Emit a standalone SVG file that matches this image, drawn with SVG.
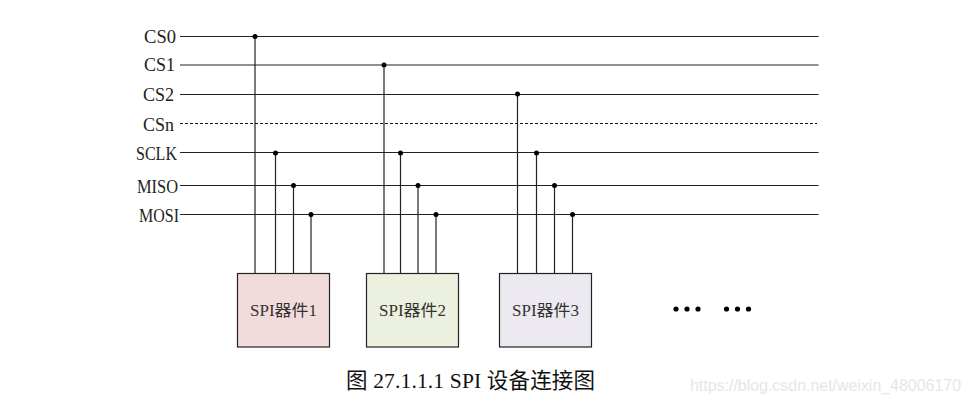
<svg xmlns="http://www.w3.org/2000/svg" width="970" height="403" viewBox="0 0 970 403">
<style>
.bus{stroke:#222;stroke-width:1.2;fill:none}
.dash{stroke:#111;stroke-width:1;stroke-dasharray:3 2}
.lbl{font-family:"Liberation Serif","Noto Sans CJK SC",serif;font-size:19px;fill:#222;text-anchor:start}
.dev{stroke:#222;stroke-width:1.2}
.devt{font-family:"Liberation Serif","Noto Sans CJK SC",serif;font-size:16px;fill:#333;text-anchor:start}
.cap{font-family:"Liberation Serif","Noto Sans CJK SC",serif;font-size:21.5px;fill:#111}
.mark{font-family:"Liberation Sans",sans-serif;font-size:16px;fill:#e6e6e6}
.dot{fill:#000}
</style>
<rect width="970" height="403" fill="#fff"/>
<g id="connectors">
<path class="bus" d="M180 36.500H818.500M180 65H818.500M180 94.500H818.500M180 152.500H818.500M180 185.500H818.500M180 214.500H818.500"/>
<path class="dash" d="M180 123.500H817"/>
<path class="bus" d="M255 36.500V273M275.500 152.500V273M293.500 185.500V273M311 214.500V273"/>
<path class="bus" d="M384 65V273M400.500 152.500V273M418 185.500V273M436 214.500V273"/>
<path class="bus" d="M517.500 94.500V273M536.500 152.500V273M554.500 185.500V273M572.500 214.500V273"/>
<g class="dot">
<circle cx="255" cy="36.500" r="2.500"/><circle cx="275.500" cy="153" r="2.500"/><circle cx="293.500" cy="185.500" r="2.500"/><circle cx="311" cy="214.500" r="2.500"/>
<circle cx="384" cy="65" r="2.500"/><circle cx="400.500" cy="153" r="2.500"/><circle cx="418" cy="185.500" r="2.500"/><circle cx="436" cy="214.500" r="2.500"/>
<circle cx="517.500" cy="94" r="2.500"/><circle cx="536.500" cy="153" r="2.500"/><circle cx="554.500" cy="185.500" r="2.500"/><circle cx="572.500" cy="214.500" r="2.500"/>
</g>
</g>
<g id="labels">
<text id="l-cs0" class="lbl" x="144" y="42.500" textLength="32" lengthAdjust="spacingAndGlyphs">CS0</text>
<text id="l-cs1" class="lbl" x="144" y="71" textLength="31" lengthAdjust="spacingAndGlyphs">CS1</text>
<text id="l-cs2" class="lbl" x="143" y="100.500" textLength="31" lengthAdjust="spacingAndGlyphs">CS2</text>
<text id="l-csn" class="lbl" x="143" y="130.500" textLength="31" lengthAdjust="spacingAndGlyphs">CSn</text>
<text id="l-sclk" class="lbl" x="136" y="159.500" textLength="41" lengthAdjust="spacingAndGlyphs">SCLK</text>
<text id="l-miso" class="lbl" x="137" y="192.500" textLength="41" lengthAdjust="spacingAndGlyphs">MISO</text>
<text id="l-mosi" class="lbl" x="139" y="221.500" textLength="40" lengthAdjust="spacingAndGlyphs">MOSI</text>
</g>
<g id="dev1"><rect class="dev" x="237.500" y="273.500" width="92" height="73.500" fill="#f2dcdb"/><text class="devt" x="250" y="315.500" textLength="67" lengthAdjust="spacingAndGlyphs">SPI器件1</text></g>
<g id="dev2"><rect class="dev" x="366.500" y="273.500" width="92" height="73.500" fill="#ebf1de"/><text class="devt" x="379" y="315.500" textLength="67" lengthAdjust="spacingAndGlyphs">SPI器件2</text></g>
<g id="dev3"><rect class="dev" x="499.500" y="273.500" width="92" height="73.500" fill="#ece9f1"/><text class="devt" x="512" y="315.500" textLength="67" lengthAdjust="spacingAndGlyphs">SPI器件3</text></g>
<g id="ellipsis" class="dot">
<circle cx="676" cy="309" r="2.600"/><circle cx="687" cy="309" r="2.600"/><circle cx="698" cy="309" r="2.600"/>
<circle cx="726.500" cy="309" r="2.600"/><circle cx="737.500" cy="309" r="2.600"/><circle cx="748.500" cy="309" r="2.600"/>
</g>
<text id="caption" class="cap" x="346" y="388" textLength="249" lengthAdjust="spacing">图 27.1.1.1 SPI 设备连接图</text>
<text id="watermark" class="mark" x="690" y="391" textLength="271" lengthAdjust="spacingAndGlyphs">https://blog.csdn.net/weixin_48006170</text>
</svg>
